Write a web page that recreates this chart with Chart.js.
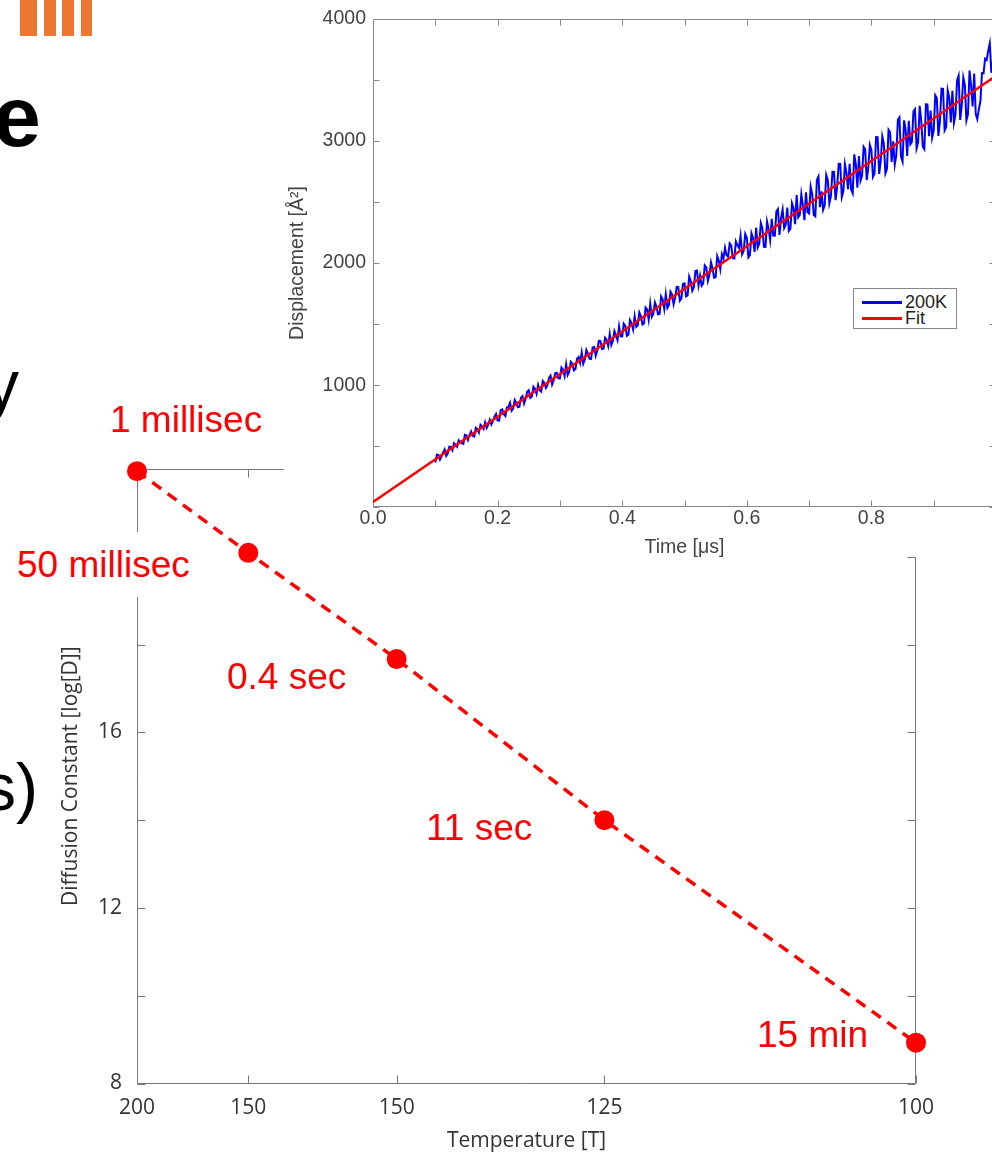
<!DOCTYPE html>
<html>
<head>
<meta charset="utf-8">
<title>Diffusion constant vs temperature</title>
<script src="https://cdn.jsdelivr.net/npm/chart.js"></script>
<style>
html,body{margin:0;padding:0;width:992px;height:1155px;overflow:hidden;background:#fff;}
body{position:relative;font-family:'Liberation Sans',Arial,Helvetica,sans-serif;}
.bar{position:absolute;top:0;height:36px;background:#ED7731;}
.slide{position:absolute;white-space:nowrap;color:#000;}
.ann{position:absolute;white-space:nowrap;color:#ff0000;font-size:37px;line-height:37px;font-family:'Liberation Sans',Arial,sans-serif;}
#mainWrap{position:absolute;left:0;top:380px;width:992px;height:775px;}
#insetWrap{position:absolute;left:284px;top:0;width:708px;height:557px;overflow:hidden;background:#fff;}
#legend{position:absolute;left:853px;top:288px;width:102px;height:39px;border:1px solid #888;background:#fff;font-family:'Liberation Sans',Arial,sans-serif;}
#legend .sw{position:absolute;left:8px;width:40px;height:3px;}
#legend .lt{position:absolute;left:51px;font-size:18px;line-height:16px;color:#222;white-space:nowrap;}
</style>
</head>
<body>
<!-- slide decoration -->
<div class="bar" style="left:20px;width:17px;"></div>
<div class="bar" style="left:44px;width:12px;"></div>
<div class="bar" style="left:62px;width:12px;"></div>
<div class="bar" style="left:81px;width:11px;"></div>
<div class="slide" style="left:-7px;top:73px;font-size:86px;line-height:86px;font-weight:bold;">e</div>
<div class="slide" style="left:-15px;top:350px;font-size:68px;line-height:68px;">y</div>
<div class="slide" style="left:-17px;top:754px;font-size:66px;line-height:66px;">s)</div>

<div id="mainWrap"><canvas id="mainChart" width="992" height="775"></canvas></div>
<div id="insetWrap"><canvas id="insetChart" width="726" height="557"></canvas></div>
<div id="legend"></div>

<div class="ann" id="note0" style="left:110px;top:400.7px;"></div>
<div class="ann" id="note1" style="left:10px;top:532px;height:65px;line-height:65px;padding-left:7px;width:185px;background:#fff;"></div>
<div class="ann" id="note2" style="left:227px;top:657.7px;"></div>
<div class="ann" id="note3" style="left:426px;top:808.7px;"></div>
<div class="ann" id="note4" style="left:757px;top:1015.7px;"></div>

<script>
// ---------------- data: main chart ----------------
const tempValues = [200, 175, 150, 125, 100];          // temperature of each point
const tempTickLabels = ['200', '150', '150', '125', '100']; // tick labels as printed
const logDValues = [21.95, 20.09, 17.67, 14.0, 8.93];  // Diffusion Constant [log[D]]
const pointNotes = ['1 millisec', '50 millisec', '0.4 sec', '11 sec', '15 min'];
const yTicksMain = [8, 10, 12, 14, 16, 18, 20, 22];
const yLabelsMain = [8, 12, 16];

// ---------------- data: inset chart ----------------
const simStart = 0.1;   // first sample time [us]
const simStep = 0.005;  // sample spacing [us]
// samples at t = 0.100, 0.105, ... 1.000
const disp200K_t0 = [
  367, 429, 417, 474, 442, 494, 525, 496, 537, 519, 589, 594, 586, 651, 611, 662, 696, 677, 678, 742,
  711, 796, 761, 818, 856, 808, 856, 823, 911, 888, 958, 908, 970, 1003, 947, 1018, 1000, 1078, 1040, 1101,
  1055, 1127, 1173, 1112, 1175, 1132, 1230, 1267, 1210, 1257, 1215, 1312, 1284, 1362, 1299, 1372, 1419, 1362, 1409, 1482,
  1399, 1486, 1414, 1506, 1564, 1491, 1564, 1506, 1619, 1666, 1584, 1641, 1583, 1701, 1743, 1656, 1743, 1716, 1803, 1711,
  1833, 1735, 1853, 1800, 1938, 1895, 1833, 1965, 1903, 1955, 1883, 2020, 2072, 2125, 2052, 2145, 2037, 2145, 2222, 2100,
  2207, 2064, 2202, 2289, 2157, 2284, 2132, 2279, 2362, 2224, 2442, 2369, 2286, 2454, 2281, 2449, 2556, 2394, 2471, 2579,
  2406, 2563, 2381, 2708, 2586, 2473, 2681, 2548, 2746, 2623, 2811, 2588, 2735, 2813, 2570, 2808, 2875, 2713, 2930, 2778,
  2925, 2732, 3030, 2837, 2975, 2772, 3070, 2997, 2885, 3192, 2830, 3087, 3164, 2992, 3259, 2987, 3164, 2932, 3299, 3247,
  3084, 3351, 3159, 3426, 3114, 3351, 3409, 3216, 3534, 3291, 3459, 3216, 3453, 3551, 3178, 3326, 3553, 3661, 3798, 3646, 3683
];
// samples at t = 0.1025, 0.1075, ... 0.9975
const disp200K_tHalf = [
  431, 390, 448, 421, 496, 468, 513, 549, 525, 593, 551, 621, 580, 638, 675, 641, 650, 717, 705, 764,
  710, 802, 747, 822, 790, 879, 819, 897, 849, 945, 896, 987, 929, 957, 1034, 977, 1059, 1004, 1099, 1056,
  1144, 1076, 1084, 1191, 1121, 1216, 1183, 1176, 1288, 1216, 1308, 1241, 1363, 1296, 1388, 1321, 1328, 1443, 1368, 1400,
  1503, 1405, 1533, 1455, 1478, 1595, 1497, 1635, 1537, 1560, 1677, 1580, 1727, 1625, 1632, 1765, 1662, 1804, 1692, 1829,
  1727, 1889, 1772, 1934, 1817, 1814, 1981, 1854, 2006, 1879, 2056, 1949, 2036, 2064, 2161, 2039, 2176, 2123, 2071, 2238,
  2046, 2243, 2091, 2128, 2326, 2133, 2340, 2188, 2225, 2423, 2230, 2438, 2315, 2263, 2490, 2318, 2375, 2562, 2350, 2417,
  2625, 2392, 2680, 2457, 2435, 2722, 2489, 2747, 2514, 2812, 2539, 2807, 2604, 2602, 2889, 2617, 2674, 2951, 2679, 2966,
  2704, 3031, 2729, 3036, 2734, 3091, 2828, 2806, 3173, 2871, 3168, 2876, 2973, 3241, 2938, 3286, 2953, 3300, 3038, 3025,
  3373, 3040, 3428, 3085, 3413, 3150, 3147, 3495, 3172, 3520, 3167, 3575, 3282, 3220, 3257, 3555, 3672, 3739, 3557, 3624
];
const fitTimes = [0, 1.0];
const fitValues = [43, 3533];
const seriesLabels = ['200K', 'Fit'];
const seriesColors = ['#0000ff', '#ff0000'];

// ---------------- helpers ----------------
function frameTicks(tickLen, color) {
  return {
    id: 'frameTicks',
    beforeDatasetsDraw(chart) {
      const {ctx, chartArea: a, scales: {x, y}} = chart;
      ctx.save();
      ctx.strokeStyle = color;
      ctx.lineWidth = 1;
      ctx.beginPath();
      const L = Math.round(a.left) + 0.5, R = Math.round(a.right) - 0.5;
      const T = Math.round(a.top) + 0.5, B = Math.round(a.bottom) - 0.5;
      ctx.rect(L, T, R - L, B - T);
      x.ticks.forEach(t => {
        const p = Math.round(x.getPixelForValue(t.value)) + 0.5;
        ctx.moveTo(p, B); ctx.lineTo(p, B - tickLen);
        ctx.moveTo(p, T); ctx.lineTo(p, T + tickLen);
      });
      y.ticks.forEach(t => {
        const p = Math.round(y.getPixelForValue(t.value)) + 0.5;
        ctx.moveTo(L, p); ctx.lineTo(L + tickLen, p);
        ctx.moveTo(R, p); ctx.lineTo(R - tickLen, p);
      });
      ctx.stroke();
      ctx.restore();
    }
  };
}

const mainFont = "'Open Sans', 'DejaVu Sans', sans-serif";
const insetFont = "'Liberation Sans', Arial, Helvetica, sans-serif";

// ---------------- main chart ----------------
new Chart(document.getElementById('mainChart'), {
  type: 'line',
  data: {
    datasets: [{
      label: 'Diffusion Constant',
      data: tempValues.map((T, i) => ({x: 1000 / T, y: logDValues[i]})),
      borderColor: '#ff0000',
      backgroundColor: '#ff0000',
      borderWidth: 3.5,
      borderDash: [11, 8],
      pointRadius: 10,
      pointHoverRadius: 10,
      pointBorderWidth: 0,
      pointBackgroundColor: '#ff0000',
      tension: 0,
      clip: false
    }]
  },
  options: {
    responsive: false,
    animation: false,
    events: [],
    layout: {padding: {top: 89, right: 76, left: 0, bottom: 0}},
    plugins: {legend: {display: false}, tooltip: {enabled: false}},
    scales: {
      x: {
        type: 'linear', min: 5, max: 10,
        grid: {display: false, drawTicks: false},
        border: {display: false},
        afterBuildTicks: s => { s.ticks = tempValues.map(T => ({value: 1000 / T})); },
        afterFit: s => { s.height = 71.5; },
        ticks: {
          autoSkip: false, maxRotation: 0, padding: 12, color: '#333',
          font: {family: mainFont, size: 21, lineHeight: 1.2},
          callback: (v, i) => tempTickLabels[i]
        },
        title: {
          display: true, text: 'Temperature [T]', color: '#333',
          font: {family: mainFont, size: 21, lineHeight: 1.2},
          padding: {top: 0, bottom: 1}
        }
      },
      y: {
        type: 'linear', min: 8, max: 22,
        grid: {display: false, drawTicks: false},
        border: {display: false},
        afterBuildTicks: s => { s.ticks = yTicksMain.map(v => ({value: v})); },
        afterFit: s => { s.width = 137; },
        ticks: {
          autoSkip: false, padding: 15, color: '#333',
          font: {family: mainFont, size: 21, lineHeight: 1.2},
          callback: v => yLabelsMain.includes(v) ? String(v) : ''
        },
        title: {
          display: true, text: 'Diffusion Constant [log[D]]', color: '#333',
          font: {family: mainFont, size: 21, lineHeight: 1.2},
          padding: {top: 58.4, bottom: 0}
        }
      }
    }
  },
  plugins: [frameTicks(8, '#777')]
});

pointNotes.forEach((txt, i) => { document.getElementById('note' + i).textContent = txt; });

// ---------------- inset chart ----------------
const blueSamples = disp200K_t0.map((v, i) => ({x: simStart + i * simStep, y: v}))
  .concat(disp200K_tHalf.map((v, i) => ({x: simStart + simStep / 2 + i * simStep, y: v})))
  .sort((a, b) => a.x - b.x);

const inset = new Chart(document.getElementById('insetChart'), {
  type: 'line',
  data: {
    datasets: [
      {
        label: seriesLabels[0],
        data: blueSamples,
        borderColor: seriesColors[0], backgroundColor: seriesColors[0],
        borderWidth: 2, pointRadius: 0, tension: 0, order: 2
      },
      {
        label: seriesLabels[1],
        data: fitTimes.map((t, i) => ({x: t, y: fitValues[i]})),
        borderColor: seriesColors[1], backgroundColor: seriesColors[1],
        borderWidth: 2.5, pointRadius: 0, tension: 0, order: 1
      }
    ]
  },
  options: {
    responsive: false,
    animation: false,
    events: [],
    layout: {padding: {top: 16, right: 14, left: 0, bottom: 0}},
    plugins: {legend: {display: false}, tooltip: {enabled: false}},
    scales: {
      x: {
        type: 'linear', min: 0, max: 1,
        grid: {display: false, drawTicks: false},
        border: {display: false},
        afterFit: s => { s.height = 49.7; },
        ticks: {
          stepSize: 0.1, autoSkip: false, maxRotation: 0, padding: 0, color: '#444',
          font: {family: insetFont, size: 19.5, lineHeight: 1.2},
          callback: v => { const k = Math.round(v * 10); return (k % 2 === 0 && k < 10) ? (k / 10).toFixed(1) : ''; }
        },
        title: {
          display: true, text: 'Time [μs]', color: '#444',
          font: {family: insetFont, size: 19.5, lineHeight: 1},
          padding: {top: 0, bottom: 0}
        }
      },
      y: {
        type: 'linear', min: 0, max: 4000,
        grid: {display: false, drawTicks: false},
        border: {display: false},
        afterFit: s => { s.width = 89; },
        ticks: {
          stepSize: 500, autoSkip: false, padding: 7, color: '#444',
          font: {family: insetFont, size: 19.5, lineHeight: 1.2},
          callback: v => (v > 0 && v % 1000 === 0) ? String(v) : ''
        },
        title: {
          display: true, text: 'Displacement [Å²]', color: '#444',
          font: {family: insetFont, size: 19.5, lineHeight: 1.2},
          padding: {top: 2.3, bottom: 0}
        }
      }
    }
  },
  plugins: [frameTicks(6, '#888')]
});

// legend built from the inset datasets
const legend = document.getElementById('legend');
inset.data.datasets.forEach((ds, i) => {
  const sw = document.createElement('div');
  sw.className = 'sw';
  sw.style.top = (11.5 + i * 16) + 'px';
  sw.style.background = ds.borderColor;
  legend.appendChild(sw);
  const lt = document.createElement('div');
  lt.className = 'lt';
  lt.style.top = (4.5 + i * 16) + 'px';
  lt.textContent = ds.label;
  legend.appendChild(lt);
});
</script>
</body>
</html>
